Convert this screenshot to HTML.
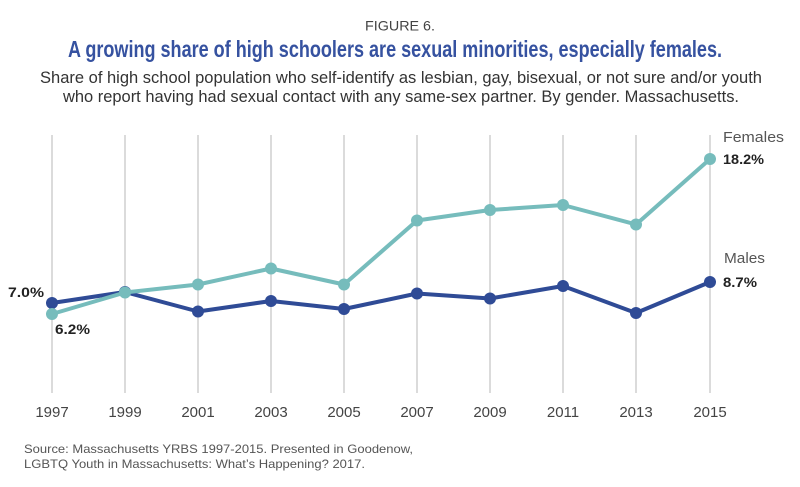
<!DOCTYPE html>
<html><head><meta charset="utf-8"><style>
html,body{margin:0;padding:0;background:#fff;}
svg{display:block;}
</style></head><body>
<svg width="800" height="487" viewBox="0 0 800 487" xmlns="http://www.w3.org/2000/svg">
<rect width="800" height="487" fill="#fff"/>
<g font-family="Liberation Sans, sans-serif">
<text x="400" y="30.5" text-anchor="middle" font-size="14" fill="#444" textLength="70" lengthAdjust="spacingAndGlyphs">FIGURE 6.</text>
<text x="68" y="57" font-size="23" font-weight="bold" fill="#3652a0" textLength="654" lengthAdjust="spacingAndGlyphs">A growing share of high schoolers are sexual minorities, especially females.</text>
<text x="40" y="83" font-size="16.5" fill="#333" textLength="722" lengthAdjust="spacingAndGlyphs">Share of high school population who self-identify as lesbian, gay, bisexual, or not sure and/or youth</text>
<text x="63" y="102" font-size="16.5" fill="#333" textLength="676" lengthAdjust="spacingAndGlyphs">who report having had sexual contact with any same-sex partner. By gender. Massachusetts.</text>
</g>
<g stroke="#cfcfcf" stroke-width="1.5">
<line x1="52" y1="135" x2="52" y2="393"/>
<line x1="125" y1="135" x2="125" y2="393"/>
<line x1="198" y1="135" x2="198" y2="393"/>
<line x1="271" y1="135" x2="271" y2="393"/>
<line x1="344" y1="135" x2="344" y2="393"/>
<line x1="417" y1="135" x2="417" y2="393"/>
<line x1="490" y1="135" x2="490" y2="393"/>
<line x1="563" y1="135" x2="563" y2="393"/>
<line x1="636" y1="135" x2="636" y2="393"/>
<line x1="710" y1="135" x2="710" y2="393"/>
</g>
<g fill="none" stroke-width="4" stroke-linejoin="round">
<polyline stroke="#2f4b96" points="52,303 125,292 198,311.5 271,301 344,309 417,293.5 490,298.5 563,286 636,313 710,282"/>
</g>
<g fill="#2f4b96">
<circle cx="52" cy="303" r="6"/><circle cx="125" cy="292" r="6"/><circle cx="198" cy="311.5" r="6"/><circle cx="271" cy="301" r="6"/><circle cx="344" cy="309" r="6"/><circle cx="417" cy="293.5" r="6"/><circle cx="490" cy="298.5" r="6"/><circle cx="563" cy="286" r="6"/><circle cx="636" cy="313" r="6"/><circle cx="710" cy="282" r="6"/>
</g>
<g fill="none" stroke-width="4" stroke-linejoin="round">
<polyline stroke="#76bcbc" points="52,314 125,292.5 198,284.5 271,268.5 344,284.5 417,220.5 490,210 563,205 636,224.5 710,159"/>
</g>
<g fill="#76bcbc">
<circle cx="52" cy="314" r="6"/><circle cx="125" cy="292.5" r="6"/><circle cx="198" cy="284.5" r="6"/><circle cx="271" cy="268.5" r="6"/><circle cx="344" cy="284.5" r="6"/><circle cx="417" cy="220.5" r="6"/><circle cx="490" cy="210" r="6"/><circle cx="563" cy="205" r="6"/><circle cx="636" cy="224.5" r="6"/><circle cx="710" cy="159" r="6"/>
</g>
<g font-family="Liberation Sans, sans-serif" font-size="14" fill="#222" font-weight="bold">
<text x="8" y="297" textLength="36" lengthAdjust="spacingAndGlyphs">7.0%</text>
<text x="55" y="334" textLength="35" lengthAdjust="spacingAndGlyphs">6.2%</text>
<text x="723" y="164" textLength="41" lengthAdjust="spacingAndGlyphs">18.2%</text>
<text x="723" y="287" textLength="34" lengthAdjust="spacingAndGlyphs">8.7%</text>
</g>
<g font-family="Liberation Sans, sans-serif" font-size="15" fill="#555">
<text x="723" y="142" textLength="61" lengthAdjust="spacingAndGlyphs">Females</text>
<text x="724" y="263" textLength="41" lengthAdjust="spacingAndGlyphs">Males</text>
</g>
<g font-family="Liberation Sans, sans-serif" font-size="15" fill="#444" text-anchor="middle">
<text x="52" y="417">1997</text>
<text x="125" y="417">1999</text>
<text x="198" y="417">2001</text>
<text x="271" y="417">2003</text>
<text x="344" y="417">2005</text>
<text x="417" y="417">2007</text>
<text x="490" y="417">2009</text>
<text x="563" y="417">2011</text>
<text x="636" y="417">2013</text>
<text x="710" y="417">2015</text>
</g>
<g font-family="Liberation Sans, sans-serif" font-size="12" fill="#555">
<text x="24" y="453" textLength="389" lengthAdjust="spacingAndGlyphs">Source: Massachusetts YRBS 1997-2015. Presented in Goodenow,</text>
<text x="24" y="468" textLength="341" lengthAdjust="spacingAndGlyphs">LGBTQ Youth in Massachusetts: What’s Happening? 2017.</text>
</g>
</svg>
</body></html>
